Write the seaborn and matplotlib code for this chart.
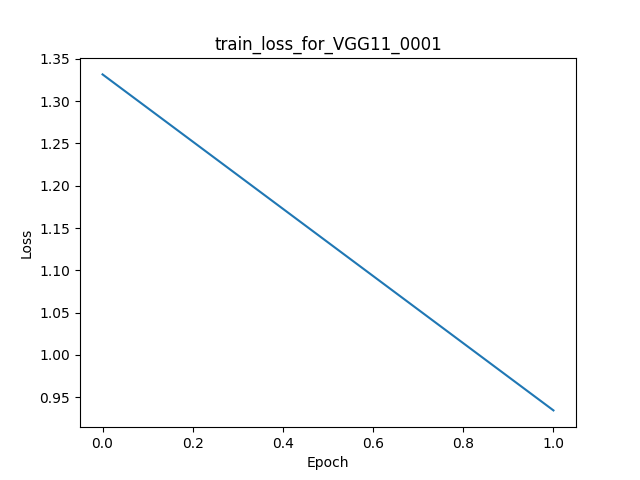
import matplotlib
matplotlib.use("Agg")
import matplotlib.pyplot as plt
import seaborn as sns

# Training loss per epoch
epochs = [0, 1]
train_loss = [1.3315, 0.9345]

fig, ax = plt.subplots(figsize=(6.4, 4.8), dpi=100)
sns.lineplot(x=epochs, y=train_loss, ax=ax, color="#1f77b4")
ax.set_title("train_loss_for_VGG11_0001")
ax.set_xlabel("Epoch")
ax.set_ylabel("Loss")
fig.savefig("out.png")
